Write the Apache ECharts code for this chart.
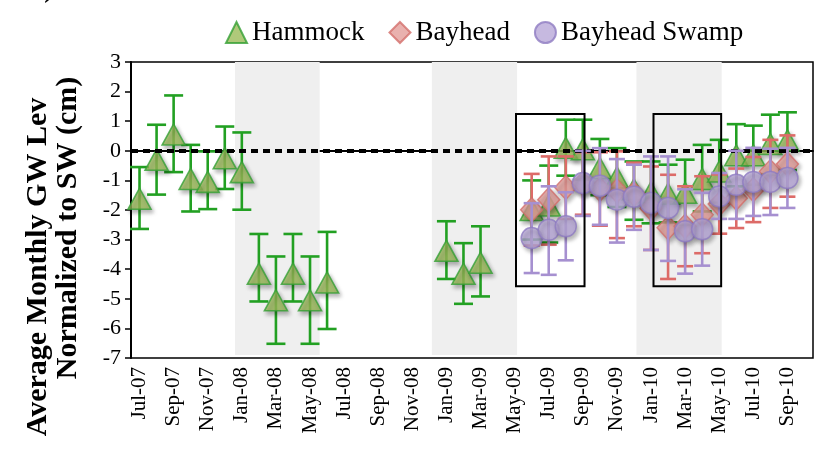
<!DOCTYPE html>
<html><head><meta charset="utf-8">
<script src="https://cdn.jsdelivr.net/npm/echarts@6/dist/echarts.min.js"></script>
<style>html,body{margin:0;padding:0;background:#fff}#c{width:821px;height:449px}</style>
</head><body><div id="c"></div>
<script>
// Categories: one per month, Jul-07 .. Oct-10
const months = ['Jul-07','Aug-07','Sep-07','Oct-07','Nov-07','Dec-07','Jan-08','Feb-08','Mar-08','Apr-08','May-08','Jun-08',
  'Jul-08','Aug-08','Sep-08','Oct-08','Nov-08','Dec-08','Jan-09','Feb-09','Mar-09','Apr-09','May-09','Jun-09',
  'Jul-09','Aug-09','Sep-09','Oct-09','Nov-09','Dec-09','Jan-10','Feb-10','Mar-10','Apr-10','May-10','Jun-10',
  'Jul-10','Aug-10','Sep-10','Oct-10'];
const N = null;
const hammockVal  = [-1.62,-0.3,0.55,-0.95,-1.05,-0.25,-0.72,-4.15,-5.05,-4.15,-5.05,-4.45,N,N,N,N,N,N,-3.38,-4.15,-3.78,N,N,
  -2.0,-1.85,0.1,0.05,-0.58,-0.9,-1.3,-1.4,-1.45,-1.42,-0.95,-0.7,-0.15,-0.15,0.23,0.35,N];
const hammockLow  = [-2.64,-1.48,-0.72,-2.05,-1.97,-1.29,-1.99,-5.09,-6.52,-5.09,-6.52,-6.02,N,N,N,N,N,N,-4.33,-5.17,-4.92,N,N,
  -3.0,-3.1,-0.84,-0.98,-1.5,-1.9,-2.33,-2.45,-2.42,-2.5,-2.05,-1.75,-1.2,-1.15,-0.8,-0.65,N];
const hammockHigh = [-0.55,0.88,1.87,0.2,-0.02,0.82,0.62,-2.81,-3.57,-2.81,-3.57,-2.74,N,N,N,N,N,N,-2.38,-3.12,-2.55,N,N,
  -1.0,-0.5,1.05,1.05,0.4,0.09,-0.36,-0.36,-0.47,-0.3,0.2,0.37,0.9,0.85,1.22,1.3,N];
const pre = [N,N,N,N,N,N,N,N,N,N,N,N,N,N,N,N,N,N,N,N,N,N,N];
const bayheadVal  = pre.concat([-1.99,-1.65,-1.24,-1.1,-1.3,-1.35,-1.45,-1.95,-2.6,-2.55,-2.16,-1.8,-1.6,-1.31,-0.7,-0.45,N]);
const bayheadLow  = pre.concat([-3.2,-3.17,-2.3,-2.16,-2.53,-2.95,-2.55,-3.35,-4.33,-3.9,-3.46,-2.8,-2.61,-2.41,-1.93,-1.55,N]);
const bayheadHigh = pre.concat([-0.78,-0.19,-0.19,-0.05,-0.05,-0.02,-0.4,-0.53,-0.81,-1.2,-0.86,-0.8,-0.6,-0.21,0.37,0.52,N]);
const swampVal  = pre.concat([-2.95,-2.67,-2.55,-1.09,-1.18,-1.65,-1.55,-1.76,-1.93,-2.72,-2.65,-1.54,-1.15,-1.05,-1.05,-0.92,N]);
const swampLow  = pre.concat([-4.13,-4.19,-3.7,-2.2,-2.5,-3.1,-2.67,-3.35,-3.72,-4.15,-3.88,-2.3,-2.3,-2.2,-2.17,-1.93,N]);
const swampHigh = pre.concat([-1.77,-1.2,-1.4,0.0,0.09,-0.28,-0.47,-0.19,-0.19,-1.3,-1.42,-0.75,0.0,0.1,0.07,0.1,N]);
// Shaded seasons (dates) and highlighted periods (dates)
const seasonStart = ['2008-01-04','2008-12-21','2009-12-21'];
const seasonEnd   = ['2008-06-03','2009-05-21','2010-05-21'];
const boxStart = ['2009-05-19','2010-01-21'];
const boxEnd   = ['2009-09-19','2010-05-20'];
const boxLow = -4.58, boxHigh = 1.24;
const yTicks = [-7,-6,-5,-4,-3,-2,-1,0,1,2,3];

function monthPos(s){ // fractional months from 1 Jul 2007
  const [y,m,d] = s.split('-').map(Number);
  const dim = new Date(y, m, 0).getDate();
  return (y-2007)*12 + (m-7) + (d-1)/dim;
}
const serif = 'Liberation Serif';
function errData(vals, lo, hi){
  const out=[]; vals.forEach((v,i)=>{ if(v!==null) out.push([i, lo[i], hi[i]]); }); return out;
}
function ptData(vals){ const out=[]; vals.forEach((v,i)=>{ if(v!==null) out.push([i,v]); }); return out; }
function errSeries(vals, lo, hi, color, cap, z){
  return {type:'custom', xAxisIndex:0, yAxisIndex:0, z:z, silent:true,
    data: errData(vals, lo, hi), encode:{x:0, y:[1,2]},
    renderItem:(p, api)=>{
      const x = api.value(0);
      const a = api.coord([x, api.value(2)]), b = api.coord([x, api.value(1)]);
      const st = {stroke:color, lineWidth:2.6};
      return {type:'group', children:[
        {type:'line', shape:{x1:a[0],y1:a[1],x2:b[0],y2:b[1]}, style:st},
        {type:'line', shape:{x1:a[0]-cap,y1:a[1],x2:a[0]+cap,y2:a[1]}, style:st},
        {type:'line', shape:{x1:b[0]-cap,y1:b[1],x2:b[0]+cap,y2:b[1]}, style:st}
      ]};
    }};
}
const shadow = {shadowBlur:4, shadowOffsetX:2, shadowOffsetY:3, shadowColor:'rgba(0,0,0,0.35)'};
const chart = echarts.init(document.getElementById('c'));
chart.setOption({
  animation:false,
  grid:{left:131, right:8, top:62, bottom:91, show:true, borderColor:'#000', borderWidth:1.5, backgroundColor:'transparent'},
  legend:{data:['Hammock','Bayhead','Bayhead Swamp'], left:220, top:14, itemWidth:21, itemHeight:21, itemGap:24,
    selectedMode:false, textStyle:{fontFamily:serif, fontSize:27, color:'#000'}},
  xAxis:[
    {type:'category', data:months, boundaryGap:true,
     axisLine:{lineStyle:{color:'#000', width:2}},
     axisTick:{interval:1, length:7, lineStyle:{color:'#000', width:1.5}},
     axisLabel:{interval:1, rotate:90, fontFamily:serif, fontSize:21, color:'#000', margin:9}},
    {type:'value', min:0, max:months.length, show:false}
  ],
  yAxis:{type:'value', min:yTicks[0], max:yTicks[yTicks.length-1], interval:1,
    axisLine:{show:true, lineStyle:{color:'#000', width:2}},
    axisTick:{show:true, length:6, lineStyle:{color:'#000', width:1.5}},
    axisLabel:{fontFamily:serif, fontSize:22, color:'#000', margin:10},
    splitLine:{show:false}},
  graphic:[
    {type:'text', x:38, y:267, rotation:Math.PI/2, style:{text:'Average Monthly GW Lev', font:'bold 30px "Liberation Serif"', fill:'#000', align:'center', verticalAlign:'middle', textAlign:'center', textVerticalAlign:'middle'}},
    {type:'text', x:68, y:228, rotation:Math.PI/2, style:{text:'Normalized to SW (cm)', font:'bold 30px "Liberation Serif"', fill:'#000', align:'center', verticalAlign:'middle', textAlign:'center', textVerticalAlign:'middle'}},
    {type:'text', x:24, y:4, style:{text:'A)', font:'bold 28px "Liberation Serif"', fill:'#000', align:'left', verticalAlign:'bottom', textAlign:'left', textVerticalAlign:'bottom'}}
  ],
  series:[
    {type:'custom', xAxisIndex:1, yAxisIndex:0, z:1, silent:true,
     data: seasonStart.map((s,i)=>[monthPos(s), monthPos(seasonEnd[i])]),
     renderItem:(p, api)=>{
       const a = api.coord([api.value(0), yTicks[yTicks.length-1]]), b = api.coord([api.value(1), yTicks[0]]);
       return {type:'rect', shape:{x:a[0], y:a[1], width:b[0]-a[0], height:b[1]-a[1]-3}, style:{fill:'#efefef'}};
     }},
    errSeries(hammockVal, hammockLow, hammockHigh, '#22a022', 9.5, 2),
    {type:'scatter', name:'Hammock', z:3, data:ptData(hammockVal), symbol:'triangle', symbolSize:[23,21],
     itemStyle:Object.assign({color:'#9bbb59', borderColor:'#35a035', borderWidth:1.6}, shadow)},
    errSeries(bayheadVal, bayheadLow, bayheadHigh, '#dd6b68', 8, 4),
    {type:'scatter', name:'Bayhead', z:5, data:ptData(bayheadVal), symbol:'diamond', symbolSize:[22,24],
     itemStyle:Object.assign({color:'#e39e9a', borderColor:'#d36f6b', borderWidth:1.5}, shadow)},
    errSeries(swampVal, swampLow, swampHigh, '#a690d0', 8, 6),
    {type:'scatter', name:'Bayhead Swamp', z:7, data:ptData(swampVal), symbol:'circle', symbolSize:21,
     itemStyle:Object.assign({color:'#b8a8d8', borderColor:'#8f7cc2', borderWidth:1.5}, shadow)},
    {type:'custom', xAxisIndex:1, yAxisIndex:0, z:10, silent:true,
     data: boxStart.map((s,i)=>[monthPos(s), monthPos(boxEnd[i])]),
     renderItem:(p, api)=>{
       const a = api.coord([api.value(0), boxHigh]), b = api.coord([api.value(1), boxLow]);
       return {type:'rect', shape:{x:a[0], y:a[1], width:b[0]-a[0], height:b[1]-a[1]}, style:{fill:'none', stroke:'#000', lineWidth:2}};
     },
     markLine:{silent:true, symbol:'none', label:{show:false},
       lineStyle:{color:'#000', type:[7,5], width:4}, data:[{yAxis:0}]}}
  ]
});
</script></body></html>
